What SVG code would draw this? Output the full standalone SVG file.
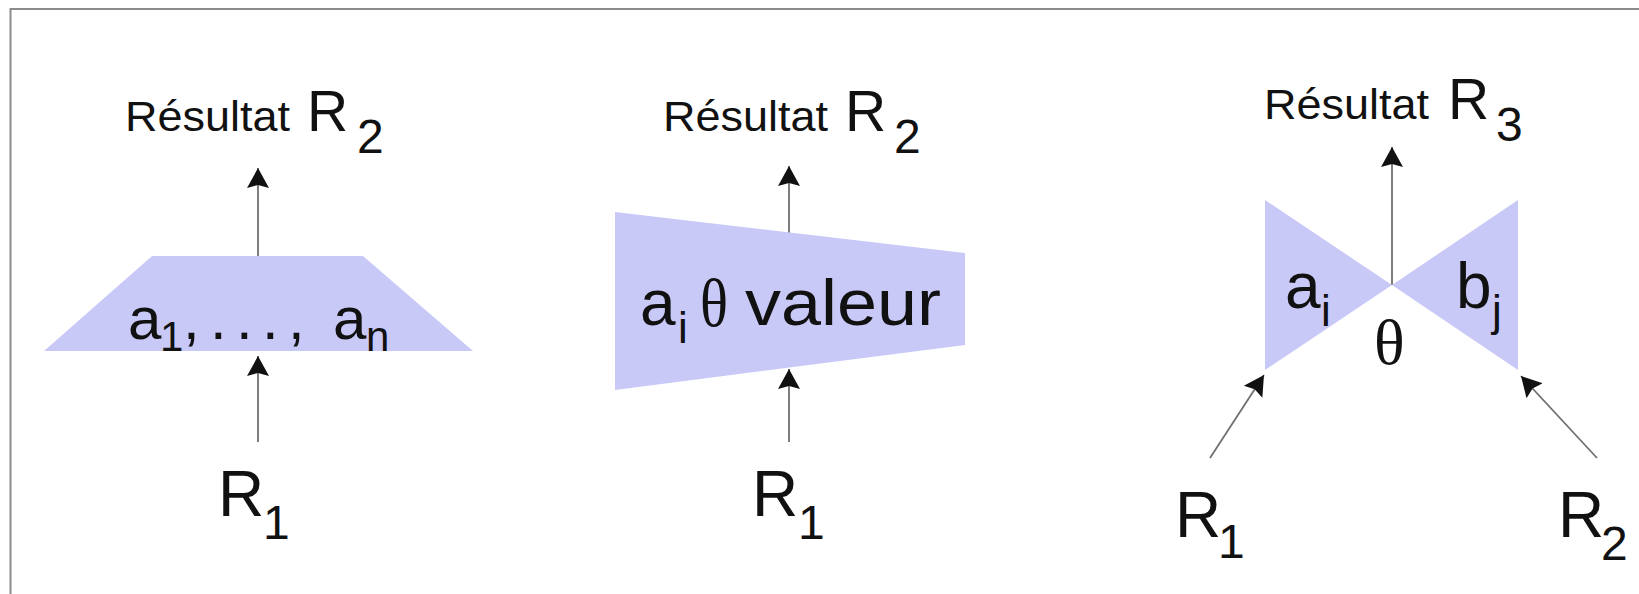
<svg xmlns="http://www.w3.org/2000/svg" width="1639" height="594" viewBox="0 0 1639 594">
<style>
.frame{stroke:#8c8c8c;stroke-width:2;fill:none}
.shape{fill:#c9c9f8;stroke:none}
.t{font-family:"Liberation Sans",Arial,sans-serif;fill:#111}
.th{font-family:"Liberation Serif","Times New Roman",serif;fill:#111}
.ln{stroke:#707070;stroke-width:1.8;fill:none}
</style>
<defs>
<marker id="ah" markerUnits="userSpaceOnUse" markerWidth="24" markerHeight="24" viewBox="0 0 24 24" refX="20" refY="12" orient="auto">
<path d="M0,1 L20,12 L0,23 L3,12 Z" fill="#111"/>
</marker>
</defs>
<rect width="1639" height="594" fill="#ffffff"/>
<path class="frame" d="M10.5,600 L10.5,9 L1645,9"/>

<g id="connectors">
<line class="ln" x1="258" y1="256" x2="258" y2="168" marker-end="url(#ah)"/>
<line class="ln" x1="258" y1="442" x2="258" y2="356" marker-end="url(#ah)"/>
<line class="ln" x1="789" y1="233" x2="789" y2="166" marker-end="url(#ah)"/>
<line class="ln" x1="789" y1="442" x2="789" y2="369" marker-end="url(#ah)"/>
<line class="ln" x1="1392" y1="285" x2="1392" y2="147" marker-end="url(#ah)"/>
<line class="ln" x1="1210" y1="458" x2="1264" y2="375" marker-end="url(#ah)"/>
<line class="ln" x1="1597" y1="458" x2="1521" y2="376" marker-end="url(#ah)"/>
</g>

<g id="projection">
<polygon class="shape" points="152,256 363,256 473,351 44,351"/>
<text class="t" font-size="60" y="339"><tspan x="128">a</tspan><tspan x="160" y="351" font-size="42">1</tspan><tspan x="183" y="339">,</tspan><tspan x="210">.</tspan><tspan x="236">.</tspan><tspan x="262">.</tspan><tspan x="288">,</tspan><tspan x="333">a</tspan><tspan x="366" y="351" font-size="42">n</tspan></text>
</g>
<g id="projection-result">
<text class="t" font-size="42" x="125" y="131" textLength="165" lengthAdjust="spacingAndGlyphs">Résultat</text>
<text class="t" font-size="57" x="307" y="131">R</text>
<text class="t" font-size="48" x="357" y="153">2</text>
</g>
<g id="projection-input">
<text class="t" font-size="64" x="218" y="516">R</text>
<text class="t" font-size="48" x="263" y="539">1</text>
</g>

<g id="selection">
<polygon class="shape" points="615,212 965,253 965,345 615,390"/>
<text class="t" font-size="64" x="640" y="325">a</text>
<text class="t" font-size="44" x="678" y="343">i</text>
<text class="th" font-size="68" x="700" y="326" textLength="28" lengthAdjust="spacingAndGlyphs">θ</text>
<text class="t" font-size="64" x="745" y="325" textLength="196" lengthAdjust="spacingAndGlyphs">valeur</text>
</g>
<g id="selection-result">
<text class="t" font-size="42" x="663" y="131" textLength="165" lengthAdjust="spacingAndGlyphs">Résultat</text>
<text class="t" font-size="57" x="845" y="131">R</text>
<text class="t" font-size="48" x="894" y="153">2</text>
</g>
<g id="selection-input">
<text class="t" font-size="64" x="752" y="516">R</text>
<text class="t" font-size="48" x="798" y="539">1</text>
</g>

<g id="join">
<polygon class="shape" points="1265,200 1392,285 1265,370"/>
<polygon class="shape" points="1518,200 1392,285 1518,370"/>
<text class="t" font-size="64" x="1285" y="308">a</text>
<text class="t" font-size="44" x="1321" y="326">i</text>
<text class="t" font-size="64" x="1456" y="308">b</text>
<text class="t" font-size="44" x="1492" y="326">j</text>
<text class="th" font-size="64" x="1374" y="364">θ</text>
</g>
<g id="join-result">
<text class="t" font-size="42" x="1264" y="119" textLength="165" lengthAdjust="spacingAndGlyphs">Résultat</text>
<text class="t" font-size="57" x="1448" y="119">R</text>
<text class="t" font-size="48" x="1496" y="141">3</text>
</g>
<g id="join-input-1">
<text class="t" font-size="64" x="1175" y="537">R</text>
<text class="t" font-size="48" x="1218" y="558">1</text>
</g>
<g id="join-input-2">
<text class="t" font-size="64" x="1558" y="537">R</text>
<text class="t" font-size="48" x="1601" y="560">2</text>
</g>
</svg>
